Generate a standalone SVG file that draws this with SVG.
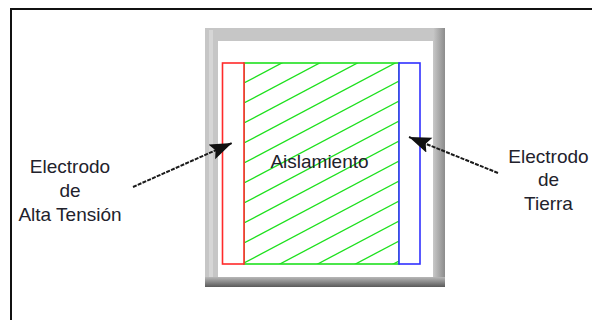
<svg xmlns="http://www.w3.org/2000/svg" width="592" height="320" viewBox="0 0 592 320">
  <style>
    .lbl { font-family: "Liberation Sans", Arial, sans-serif; font-size: 19px; fill: #22222c; text-anchor: middle; }
    .hatch line { stroke: #1ee01e; stroke-width: 1.3; }
    .conn { stroke: #1a1a1a; stroke-width: 2; stroke-dasharray: 4 1.2; fill: none; }
  </style>
  <defs>
    <linearGradient id="gBottom" x1="0" y1="0" x2="0" y2="1">
      <stop offset="0" stop-color="#b8b8b8"/>
      <stop offset="1" stop-color="#5a5a5a"/>
    </linearGradient>
    <linearGradient id="gRight" x1="0" y1="0" x2="1" y2="0">
      <stop offset="0" stop-color="#c8c8c8"/>
      <stop offset="1" stop-color="#8c8c8c"/>
    </linearGradient>
    <clipPath id="clipIns">
      <rect x="244" y="63" width="155" height="201"/>
    </clipPath>
    <marker id="arr" markerUnits="userSpaceOnUse" markerWidth="26" markerHeight="18" refX="22" refY="8" orient="auto">
      <path d="M0,0 L22,8 L0,16 L4,8 z" fill="#111"/>
    </marker>
  </defs>

  <rect width="592" height="320" fill="#ffffff"/>
  <path d="M11,320 V9 H592" fill="none" stroke="#111" stroke-width="2"/>

  <g id="frame">
    <rect x="205" y="28" width="240" height="259" fill="#c6c6c6"/>
    <rect x="433" y="28" width="12" height="259" fill="url(#gRight)"/>
    <rect x="205" y="277" width="240" height="10" fill="url(#gBottom)"/>
    <rect x="209" y="30" width="4" height="247" fill="#d6d6d6"/>
    <rect x="218" y="41" width="215" height="236" fill="#ffffff"/>
  </g>

  <g id="insulation">
    <g class="hatch" clip-path="url(#clipIns)">
      <line x1="244" y1="83" x2="399" y2="1"/>
      <line x1="244" y1="103" x2="399" y2="21"/>
      <line x1="244" y1="123" x2="399" y2="41"/>
      <line x1="244" y1="143" x2="399" y2="61"/>
      <line x1="244" y1="163" x2="399" y2="81"/>
      <line x1="244" y1="183" x2="399" y2="101"/>
      <line x1="244" y1="203" x2="399" y2="121"/>
      <line x1="244" y1="223" x2="399" y2="141"/>
      <line x1="244" y1="243" x2="399" y2="161"/>
      <line x1="244" y1="263" x2="399" y2="181"/>
      <line x1="244" y1="283" x2="399" y2="201"/>
      <line x1="244" y1="303" x2="399" y2="221"/>
      <line x1="244" y1="323" x2="399" y2="241"/>
      <line x1="244" y1="343" x2="399" y2="261"/>
    </g>
    <rect x="244" y="63" width="155" height="201" fill="none" stroke="#1ee01e" stroke-width="1.6"/>
    <text class="lbl" x="319.5" y="168">Aislamiento</text>
  </g>

  <g id="electrode-ht">
    <rect x="222.5" y="63" width="21.5" height="201" fill="#ffffff" stroke="#ff2a2a" stroke-width="1.6"/>
  </g>

  <g id="electrode-ground">
    <rect x="399" y="63" width="21" height="201" fill="#ffffff" stroke="#3030ff" stroke-width="1.6"/>
  </g>

  <g id="label-ht">
    <text class="lbl" x="70" y="173">Electrodo</text>
    <text class="lbl" x="70" y="197">de</text>
    <text class="lbl" x="70" y="221">Alta Tensión</text>
  </g>

  <g id="label-ground">
    <text class="lbl" x="548.5" y="163">Electrodo</text>
    <text class="lbl" x="548.5" y="186">de</text>
    <text class="lbl" x="548.5" y="210">Tierra</text>
  </g>

  <g id="connectors">
    <line class="conn" x1="133" y1="187" x2="232" y2="143" marker-end="url(#arr)"/>
    <line class="conn" x1="498" y1="173" x2="409" y2="137" marker-end="url(#arr)"/>
  </g>
</svg>
